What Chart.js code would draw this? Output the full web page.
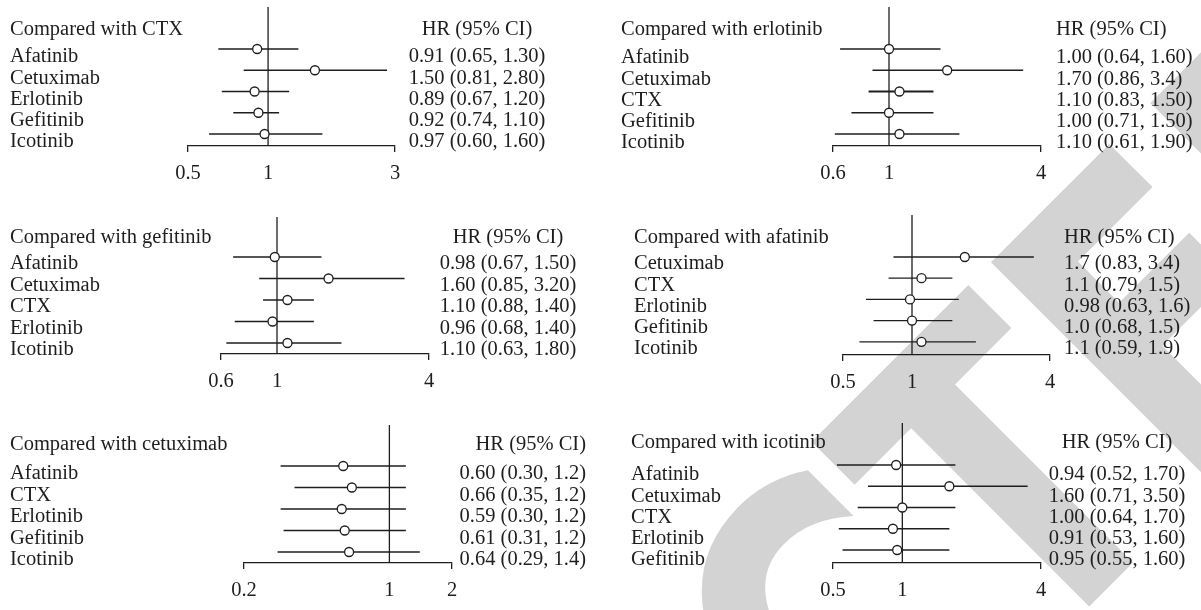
<!DOCTYPE html>
<html>
<head>
<meta charset="utf-8">
<script src="https://cdn.jsdelivr.net/npm/chart.js@4.4.1/dist/chart.umd.min.js"></script>
<style>
  body { margin: 0; background: #fff; }
  #page { position: relative; width: 1201px; height: 610px; overflow: hidden; background: #fff; }
  #stamp {
    position: absolute; left: 668px; top: 818px;
    transform: translate(-50%, -50%) rotate(-45deg) scaleY(1.3);
    font: bold 330px "DejaVu Sans"; font-kerning: none; color: #d3d3d3;
    white-space: nowrap; line-height: 1; z-index: 0;
  }
  canvas { position: absolute; z-index: 1; }
</style>
</head>
<body>
<div id="page">
  <div id="stamp">RETRACTED</div>
  <canvas id="p1"></canvas>
  <canvas id="p2"></canvas>
  <canvas id="p3"></canvas>
  <canvas id="p4"></canvas>
  <canvas id="p5"></canvas>
  <canvas id="p6"></canvas>
</div>
<script>
// compared with CTX
const ctxDrugs = ['Afatinib', 'Cetuximab', 'Erlotinib', 'Gefitinib', 'Icotinib'];
const ctxHR = [0.91, 1.50, 0.89, 0.92, 0.97];
const ctxLow = [0.65, 0.81, 0.67, 0.74, 0.60];
const ctxHigh = [1.30, 2.80, 1.20, 1.10, 1.60];
const ctxText = ['0.91 (0.65, 1.30)', '1.50 (0.81, 2.80)', '0.89 (0.67, 1.20)', '0.92 (0.74, 1.10)', '0.97 (0.60, 1.60)'];
const ctxTicks = [0.5, 1, 3];

// compared with erlotinib
const erlDrugs = ['Afatinib', 'Cetuximab', 'CTX', 'Gefitinib', 'Icotinib'];
const erlHR = [1.00, 1.70, 1.10, 1.00, 1.10];
const erlLow = [0.64, 0.86, 0.83, 0.71, 0.61];
const erlHigh = [1.60, 3.4, 1.50, 1.50, 1.90];
const erlText = ['1.00 (0.64, 1.60)', '1.70 (0.86, 3.4)', '1.10 (0.83, 1.50)', '1.00 (0.71, 1.50)', '1.10 (0.61, 1.90)'];
const erlTicks = [0.6, 1, 4];

// compared with gefitinib
const gefDrugs = ['Afatinib', 'Cetuximab', 'CTX', 'Erlotinib', 'Icotinib'];
const gefHR = [0.98, 1.60, 1.10, 0.96, 1.10];
const gefLow = [0.67, 0.85, 0.88, 0.68, 0.63];
const gefHigh = [1.50, 3.20, 1.40, 1.40, 1.80];
const gefText = ['0.98 (0.67, 1.50)', '1.60 (0.85, 3.20)', '1.10 (0.88, 1.40)', '0.96 (0.68, 1.40)', '1.10 (0.63, 1.80)'];
const gefTicks = [0.6, 1, 4];

// compared with afatinib
const afaDrugs = ['Cetuximab', 'CTX', 'Erlotinib', 'Gefitinib', 'Icotinib'];
const afaHR = [1.7, 1.1, 0.98, 1.0, 1.1];
const afaLow = [0.83, 0.79, 0.63, 0.68, 0.59];
const afaHigh = [3.4, 1.5, 1.6, 1.5, 1.9];
const afaText = ['1.7 (0.83, 3.4)', '1.1 (0.79, 1.5)', '0.98 (0.63, 1.6)', '1.0 (0.68, 1.5)', '1.1 (0.59, 1.9)'];
const afaTicks = [0.5, 1, 4];

// compared with cetuximab
const cetDrugs = ['Afatinib', 'CTX', 'Erlotinib', 'Gefitinib', 'Icotinib'];
const cetHR = [0.60, 0.66, 0.59, 0.61, 0.64];
const cetLow = [0.30, 0.35, 0.30, 0.31, 0.29];
const cetHigh = [1.2, 1.2, 1.2, 1.2, 1.4];
const cetText = ['0.60 (0.30, 1.2)', '0.66 (0.35, 1.2)', '0.59 (0.30, 1.2)', '0.61 (0.31, 1.2)', '0.64 (0.29, 1.4)'];
const cetTicks = [0.2, 1, 2];

// compared with icotinib
const icoDrugs = ['Afatinib', 'Cetuximab', 'CTX', 'Erlotinib', 'Gefitinib'];
const icoHR = [0.94, 1.60, 1.00, 0.91, 0.95];
const icoLow = [0.52, 0.71, 0.64, 0.53, 0.55];
const icoHigh = [1.70, 3.50, 1.70, 1.60, 1.60];
const icoText = ['0.94 (0.52, 1.70)', '1.60 (0.71, 3.50)', '1.00 (0.64, 1.70)', '0.91 (0.53, 1.60)', '0.95 (0.55, 1.60)'];
const icoTicks = [0.5, 1, 4];

const FONT = '20.5px "Liberation Serif"';
const INK = '#1e1e1e';

// page positions of each panel (pixels of the 1201x610 page)
const panels = [
  { id: 'p1', title: 'Compared with CTX', drugs: ctxDrugs, hr: ctxHR, low: ctxLow, high: ctxHigh, text: ctxText, ticks: ctxTicks,
    left: 0, top: 0, w: 600, h: 200, x0: 188, x1: 395, vTop: 7, axisY: 146, row1: 49, step: 21.25,
    titleX: 10, titleY: 30, rightX: 477, rightAlign: 'center', dy: 8 },
  { id: 'p2', title: 'Compared with erlotinib', drugs: erlDrugs, hr: erlHR, low: erlLow, high: erlHigh, text: erlText, ticks: erlTicks,
    left: 600, top: 0, w: 601, h: 200, x0: 833, x1: 1041, vTop: 7, axisY: 146, row1: 49, step: 21.25,
    titleX: 621, titleY: 30, rightX: 1056, rightAlign: 'left', dy: 9, thickRow: 2 },
  { id: 'p3', title: 'Compared with gefitinib', drugs: gefDrugs, hr: gefHR, low: gefLow, high: gefHigh, text: gefText, ticks: gefTicks,
    left: 0, top: 200, w: 600, h: 200, x0: 221, x1: 429, vTop: 217, axisY: 354, row1: 257, step: 21.5,
    titleX: 10, titleY: 238, rightX: 508, rightAlign: 'center', dy: 7 },
  { id: 'p4', title: 'Compared with afatinib', drugs: afaDrugs, hr: afaHR, low: afaLow, high: afaHigh, text: afaText, ticks: afaTicks,
    left: 600, top: 200, w: 601, h: 200, x0: 843, x1: 1050, vTop: 215, axisY: 355, row1: 257, step: 21.2,
    titleX: 634, titleY: 238, rightX: 1064, rightAlign: 'left', dy: 7 },
  { id: 'p5', title: 'Compared with cetuximab', drugs: cetDrugs, hr: cetHR, low: cetLow, high: cetHigh, text: cetText, ticks: cetTicks,
    left: 0, top: 400, w: 600, h: 210, x0: 244, x1: 452, vTop: 425, axisY: 563, row1: 466, step: 21.5,
    titleX: 10, titleY: 445, rightX: 586, rightAlign: 'right', dy: 8 },
  { id: 'p6', title: 'Compared with icotinib', drugs: icoDrugs, hr: icoHR, low: icoLow, high: icoHigh, text: icoText, ticks: icoTicks,
    left: 600, top: 400, w: 601, h: 210, x0: 833, x1: 1041, vTop: 423, axisY: 563, row1: 465, step: 21.25,
    titleX: 631, titleY: 443, rightX: 1117, rightAlign: 'center', dy: 10 }
];

const AXIS_H = 40;

// vertical line at HR = 1
const nullLine = {
  id: 'nullLine',
  beforeDatasetsDraw(chart) {
    const c = chart.ctx, a = chart.chartArea;
    const x = chart.scales.x.getPixelForValue(1);
    c.save();
    c.strokeStyle = INK;
    c.lineWidth = 1.3;
    c.beginPath();
    c.moveTo(x, a.top);
    c.lineTo(x, a.bottom);
    c.stroke();
    c.restore();
  }
};

// title, drug names and HR (95% CI) column
const tableText = {
  id: 'tableText',
  afterDraw(chart, args, o) {
    const p = o.panel, c = chart.ctx, ys = chart.scales.y;
    c.save();
    c.font = FONT;
    c.fillStyle = INK;
    c.textBaseline = 'middle';
    c.textAlign = 'left';
    c.fillText(p.title, p.titleX - p.left, p.titleY - p.top);
    p.drugs.forEach((d, i) => c.fillText(d, p.titleX - p.left, ys.getPixelForValue(i + 1) + p.dy));
    c.textAlign = p.rightAlign;
    const rx = p.rightX - p.left;
    c.fillText('HR (95% CI)', rx, p.titleY - p.top);
    p.text.forEach((t, i) => c.fillText(t, rx, ys.getPixelForValue(i + 1) + p.dy));
    c.restore();
  }
};

panels.forEach(p => {
  const cv = document.getElementById(p.id);
  cv.width = p.w;
  cv.height = p.h;
  cv.style.left = p.left + 'px';
  cv.style.top = p.top + 'px';

  const ciSets = p.low.map((lo, i) => ({
    type: 'line',
    data: [{ x: lo, y: i + 1 }, { x: p.high[i], y: i + 1 }],
    borderColor: INK,
    borderWidth: i === p.thickRow ? 2.2 : 1.3,
    pointRadius: 0,
    fill: false
  }));

  new Chart(cv, {
    type: 'scatter',
    data: {
      datasets: [{
        data: p.hr.map((v, i) => ({ x: v, y: i + 1 })),
        pointRadius: 4.5,
        pointBackgroundColor: '#fff',
        pointBorderColor: INK,
        pointBorderWidth: 1.3
      }].concat(ciSets)
    },
    options: {
      responsive: false,
      animation: false,
      devicePixelRatio: 1,
      layout: {
        padding: {
          left: p.x0 - p.left,
          right: p.left + p.w - p.x1,
          top: p.vTop - p.top,
          bottom: p.top + p.h - p.axisY - AXIS_H
        }
      },
      scales: {
        x: {
          type: 'logarithmic',
          min: p.ticks[0],
          max: p.ticks[p.ticks.length - 1],
          afterBuildTicks: s => { s.ticks = p.ticks.map(v => ({ value: v })); },
          afterFit: s => { s.height = AXIS_H; },
          grid: {
            drawOnChartArea: false,
            tickLength: 6,
            lineWidth: 1.3,
            color: c => (c.tick && c.tick.value === 1 ? 'rgba(0,0,0,0)' : INK)
          },
          border: { display: true, color: INK, width: 1.3 },
          ticks: {
            autoSkip: false,
            maxRotation: 0,
            padding: 9,
            color: INK,
            font: { family: 'Liberation Serif', size: 20.5 },
            callback: v => String(v)
          }
        },
        y: {
          type: 'linear',
          display: false,
          reverse: true,
          min: 1 - (p.row1 - p.vTop) / p.step,
          max: 1 + (p.axisY - p.row1) / p.step
        }
      },
      plugins: {
        legend: { display: false },
        tooltip: { enabled: false },
        tableText: { panel: p }
      }
    },
    plugins: [nullLine, tableText]
  });
});
</script>
</body>
</html>
